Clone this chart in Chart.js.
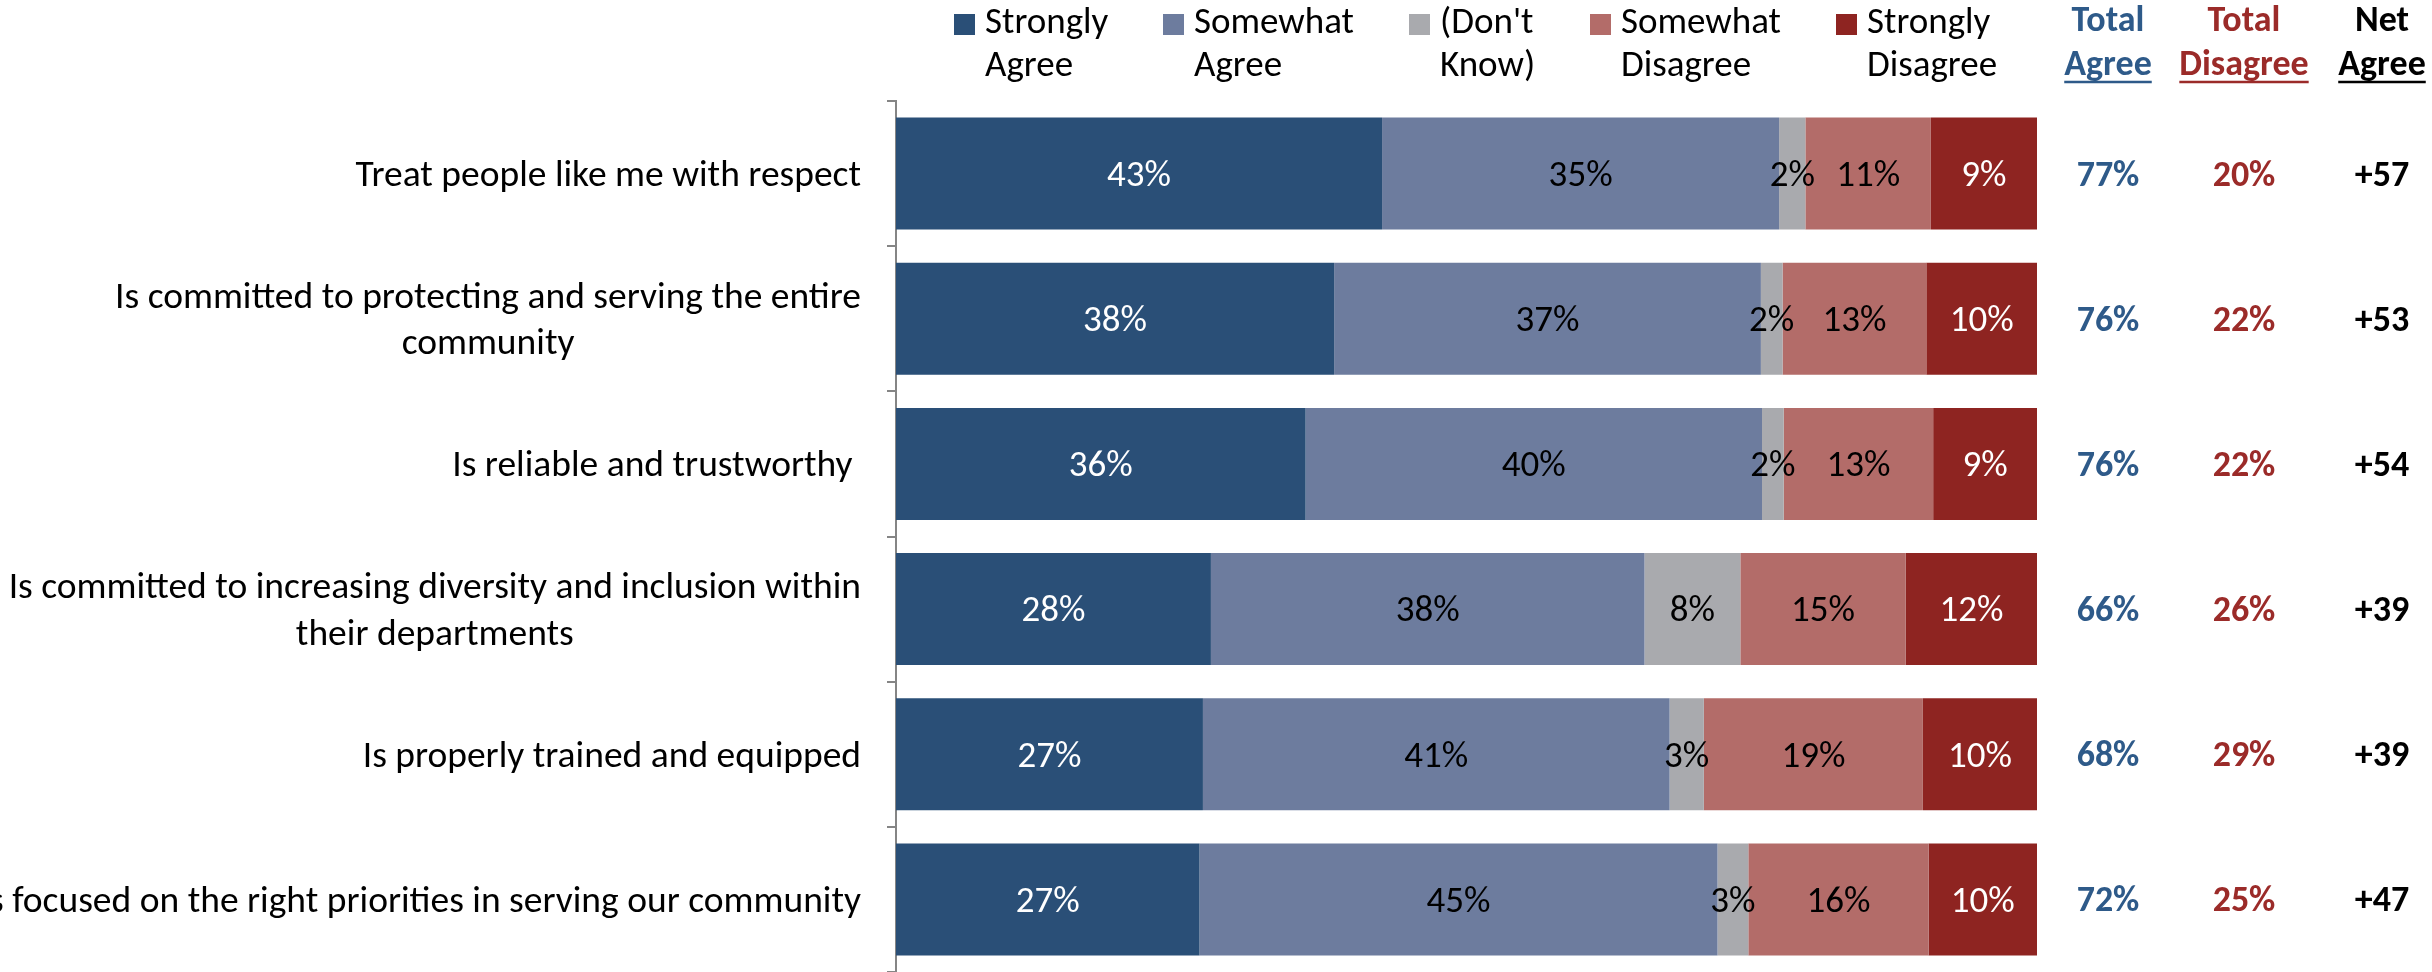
<!DOCTYPE html>
<html><head><meta charset="utf-8">
<script src="https://cdn.jsdelivr.net/npm/chart.js@4/dist/chart.umd.min.js"></script>
<style>html,body{margin:0;padding:0;background:#fff}#wrap{width:2432px;height:972px;position:relative}</style>
</head><body><div id="wrap"><canvas id="c"></canvas></div>
<script>
// ---- data ----
const categories = [
  ['Treat people like me with respect'],
  ['Is committed to protecting and serving the entire', 'community'],
  ['Is reliable and trustworthy '],
  ['Is committed to increasing diversity and inclusion within', 'their departments'],
  ['Is properly trained and equipped'],
  ['Is focused on the right priorities in serving our community']
];
const seriesNames = [['Strongly','Agree'], ['Somewhat','Agree'], ["(Don't",'Know)'], ['Somewhat','Disagree'], ['Strongly','Disagree']];
const stronglyAgree    = [42.6, 38.4, 35.9, 27.6, 26.9, 26.6];
const somewhatAgree    = [34.8, 37.4, 40.0, 38.0, 40.9, 45.4];
const dontKnow         = [2.3, 1.9, 1.9, 8.4, 3.0, 2.7];
const somewhatDisagree = [11.0, 12.6, 13.1, 14.5, 19.2, 15.8];
const stronglyDisagree = [9.3, 9.7, 9.1, 11.5, 10.0, 9.5];
const summaryHeaders = [['Total','Agree'], ['Total','Disagree'], ['Net','Agree']];
const totalAgree    = ['77%','76%','76%','66%','68%','72%'];
const totalDisagree = ['20%','22%','22%','26%','29%','25%'];
const netAgree      = ['+57','+53','+54','+39','+39','+47'];

// ---- styles ----
const colors = ['#2a4f77', '#6d7c9e', '#a9aaae', '#b36c69', '#8e2421'];
const labelColors = ['#ffffff', '#000000', '#000000', '#000000', '#ffffff'];
const summaryColors = ['#2e5a89', '#9b2b29', '#000000'];

function hasFont(name){
  const c = document.createElement('canvas').getContext('2d');
  const t = 'Is committed to increasing diversity WMwm 0123';
  let diff = false;
  ['monospace','serif'].forEach(g=>{
    c.font = '36px ' + g; const a = c.measureText(t).width;
    c.font = '36px "' + name + '", ' + g; const b = c.measureText(t).width;
    if (Math.abs(a-b) > 0.5) diff = true;
  });
  return diff;
}
const candidates = ['Carlito','Lato'];
let FAM = 'sans-serif';
for (const f of candidates){ if (hasFont(f)) { FAM = '"' + f + '", sans-serif'; break; } }

const datasets = [stronglyAgree, somewhatAgree, dontKnow, somewhatDisagree, stronglyDisagree].map((d,i)=>({
  label: seriesNames[i].join(' '),
  data: d,
  backgroundColor: colors[i],
  borderWidth: 0,
  categoryPercentage: 1.0,
  barPercentage: 0.771
}));

const overlay = {
  id: 'overlay',
  afterDatasetsDraw(chart){
    const ctx = chart.ctx;
    ctx.save();
    ctx.font = '37px ' + FAM;
    ctx.textAlign = 'center';
    ctx.textBaseline = 'middle';
    chart.data.datasets.forEach((ds, di)=>{
      const meta = chart.getDatasetMeta(di);
      meta.data.forEach((bar, i)=>{
        const p = bar.getProps(['x','base','y'], true);
        ctx.fillStyle = labelColors[di];
        ctx.fillText(Math.round(ds.data[i]) + '%', (p.x + p.base)/2, p.y + 3);
      });
    });
    ctx.restore();
  },
  afterDraw(chart){
    const ctx = chart.ctx;
    const y = chart.scales.y;
    ctx.save();
    // category labels
    ctx.font = '37.5px ' + FAM;
    ctx.fillStyle = '#000';
    ctx.textBaseline = 'middle';
    ctx.textAlign = 'center';
    const right = 861, lh = 46.5;
    categories.forEach((lines, i)=>{
      const cy = y.getPixelForValue(i);
      const w = Math.max(...lines.map(l=>ctx.measureText(l).width));
      const cx = right - w/2;
      lines.forEach((l, k)=>{
        ctx.fillText(l, cx, cy + (k - (lines.length-1)/2) * lh + 3);
      });
    });
    // legend
    const legendX = [954, 1163, 1409, 1590, 1836];
    ctx.font = '37px ' + FAM;
    ctx.textAlign = 'left';
    seriesNames.forEach((lines, i)=>{
      ctx.fillStyle = colors[i];
      ctx.fillRect(legendX[i], 14, 21, 21);
      ctx.fillStyle = '#000';
      lines.forEach((l,k)=> ctx.fillText(l, legendX[i] + 31, 24 + k*43));
    });
    // summary columns
    const colX = [2108, 2244, 2382];
    const cols = [totalAgree, totalDisagree, netAgree];
    ctx.font = 'bold 36px ' + FAM;
    ctx.textAlign = 'center';
    summaryHeaders.forEach((lines, j)=>{
      ctx.fillStyle = summaryColors[j];
      ctx.strokeStyle = summaryColors[j];
      lines.forEach((l,k)=>{
        const ty = 22 + k*44;
        ctx.fillText(l, colX[j], ty);
        if (k === 1){
          const w = ctx.measureText(l).width;
          ctx.lineWidth = 2.5;
          ctx.beginPath();
          ctx.moveTo(colX[j] - w/2, ty + 16);
          ctx.lineTo(colX[j] + w/2, ty + 16);
          ctx.stroke();
        }
      });
      cols[j].forEach((v, i)=>{
        ctx.fillText(v, colX[j], y.getPixelForValue(i) + 3);
      });
    });
    ctx.restore();
  }
};

new Chart(document.getElementById('c'), {
  type: 'bar',
  data: { labels: categories.map(l=>l.join(' ')), datasets },
  options: {
    indexAxis: 'y',
    responsive: true,
    maintainAspectRatio: false,
    animation: false,
    layout: { padding: { top: 101, right: 395, bottom: 0, left: 0 } },
    plugins: { legend: { display: false }, tooltip: { enabled: false } },
    scales: {
      x: { stacked: true, min: 0, max: 100, display: false },
      y: {
        stacked: true,
        grid: { display: true, drawOnChartArea: false, drawTicks: true, tickLength: 9, color: '#858585', lineWidth: 2, offset: true },
        border: { display: true, color: '#858585', width: 2 },
        ticks: { display: false },
        afterFit(s){ s.width = 896; }
      }
    }
  },
  plugins: [overlay]
});
</script>
</body></html>
